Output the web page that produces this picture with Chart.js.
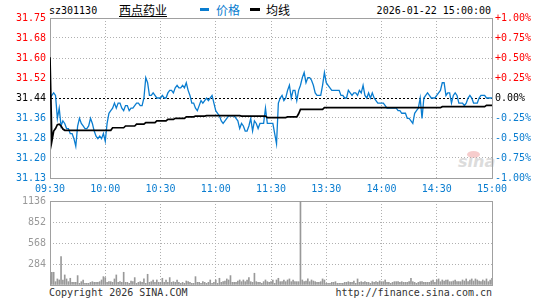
<!DOCTYPE html>
<html><head><meta charset="utf-8">
<script src="https://cdn.jsdelivr.net/npm/chart.js@4/dist/chart.umd.min.js"></script>
<style>
html,body{margin:0;padding:0;background:#fff;}
#wrap{position:relative;width:545px;height:300px;overflow:hidden;font-family:'DejaVu Sans Mono',monospace;font-size:10px;color:#000;}
canvas{position:absolute;left:0;top:0;z-index:2;}
.t{position:absolute;white-space:nowrap;line-height:12px;}
.cjk{font-family:'Noto Sans CJK SC',sans-serif;font-size:12px;line-height:14px;}
</style></head><body>
<div id="wrap">
  <div class="t" style="left:49px;top:5px;">sz301130</div>
  <div class="t cjk" style="left:119px;top:3px;text-decoration:underline;">西点药业</div>
  <div style="position:absolute;left:200px;top:8px;width:9px;height:3px;background:#0a7dd0;"></div>
  <div class="t cjk" style="left:216px;top:3px;color:#0a7dd0;">价格</div>
  <div style="position:absolute;left:250px;top:8px;width:10px;height:3px;background:#000;"></div>
  <div class="t cjk" style="left:266px;top:3px;">均线</div>
  <div class="t" style="right:54px;top:5px;">2026-01-22 15:00:00</div>
  <div class="t" style="left:458px;top:153px;font-family:'DejaVu Sans',sans-serif;font-weight:bold;font-style:italic;font-size:16px;line-height:18px;color:#dcdcdc;z-index:1;">sina</div>
  <div style="position:absolute;left:467px;top:151px;width:13px;height:7px;border-radius:50%;background:#f6cccc;z-index:1;"></div>
  <div class="t" style="left:49px;top:287px;color:#333;">Copyright 2026 SINA.COM</div>
  <div class="t" style="right:53px;top:287px;color:#333;">http://finance.sina.com.cn</div>
  <canvas id="c1" width="545" height="300"></canvas>
  <canvas id="c2" width="545" height="300"></canvas>
</div>
<script>
// ---- data ----
const prevClose = 31.44;
const pctLevels = [1, 0.75, 0.5, 0.25, 0, -0.25, -0.5, -0.75, -1];
const priceTickLabels = ['31.75','31.68','31.60','31.52','31.44','31.36','31.28','31.20','31.13'];
const pctTickLabels = ['+1.00%','+0.75%','+0.50%','+0.25%','0.00%','-0.25%','-0.50%','-0.75%','-1.00%'];
const timeTickMinutes = [0,30,60,90,120,150,180,210,240];
const timeTickLabels = ['09:30','10:00','10:30','11:00','11:30','13:30','14:00','14:30','15:00'];
const volTickValues = [0,284,568,852,1136];
const volTickLabels = ['','284','568','852','1136'];

const price = [
31.44,31.45,31.46,31.45,31.36,31.40,31.33,31.35,31.34,31.32,
31.32,31.30,31.30,31.28,31.25,31.33,31.36,31.34,31.33,31.32,
31.32,31.33,31.36,31.34,31.31,31.29,31.28,31.29,31.28,31.30,
31.27,31.34,31.38,31.39,31.40,31.42,31.40,31.42,31.42,31.40,
31.39,31.41,31.41,31.39,31.40,31.40,31.41,31.42,31.42,31.41,
31.41,31.44,31.52,31.50,31.45,31.45,31.46,31.45,31.44,31.44,
31.44,31.45,31.44,31.44,31.46,31.47,31.47,31.46,31.48,31.49,
31.48,31.48,31.49,31.48,31.50,31.47,31.45,31.42,31.42,31.40,
31.39,31.41,31.43,31.42,31.43,31.44,31.43,31.44,31.45,31.42,
31.39,31.38,31.37,31.35,31.34,31.35,31.36,31.37,31.37,31.37,
31.37,31.36,31.35,31.32,31.34,31.33,31.31,31.31,31.33,31.36,
31.31,31.35,31.34,31.32,31.34,31.34,31.34,31.40,31.34,31.34,
31.34,31.34,31.30,31.26,31.42,31.44,31.45,31.43,31.44,31.47,
31.49,31.44,31.47,31.47,31.43,31.47,31.49,31.52,31.54,31.50,
31.52,31.52,31.51,31.49,31.46,31.45,31.45,31.45,31.49,31.54,
31.50,31.49,31.48,31.47,31.47,31.47,31.47,31.47,31.45,31.45,
31.44,31.44,31.47,31.46,31.45,31.46,31.46,31.45,31.47,31.46,
31.49,31.45,31.44,31.46,31.44,31.46,31.44,31.43,31.42,31.42,
31.42,31.42,31.41,31.40,31.40,31.40,31.40,31.40,31.40,31.39,
31.39,31.38,31.38,31.38,31.36,31.36,31.35,31.34,31.38,31.39,
31.40,31.44,31.36,31.44,31.45,31.46,31.45,31.44,31.44,31.44,
31.45,31.46,31.47,31.50,31.50,31.45,31.46,31.46,31.42,31.45,
31.46,31.45,31.42,31.42,31.42,31.41,31.42,31.44,31.45,31.44,
31.42,31.42,31.42,31.44,31.45,31.45,31.45,31.44,31.44,31.44,
31.44
];

const avgPrice = [
31.60,31.27,31.31,31.32,31.335,31.337,31.33,31.318,31.313,31.313,
31.313,31.313,31.313,31.313,31.313,31.313,31.313,31.313,31.313,31.313,
31.313,31.313,31.313,31.313,31.313,31.313,31.313,31.313,31.313,31.313,
31.313,31.313,31.313,31.313,31.323,31.323,31.323,31.323,31.323,31.323,
31.323,31.33,31.33,31.33,31.33,31.33,31.33,31.337,31.337,31.337,
31.337,31.337,31.343,31.343,31.343,31.343,31.343,31.343,31.35,31.35,
31.35,31.35,31.35,31.35,31.356,31.356,31.356,31.356,31.36,31.36,
31.36,31.36,31.36,31.36,31.366,31.366,31.366,31.366,31.366,31.369,
31.369,31.369,31.369,31.369,31.369,31.371,31.371,31.371,31.371,31.371,
31.371,31.371,31.371,31.371,31.371,31.371,31.371,31.371,31.371,31.371,
31.371,31.371,31.371,31.371,31.369,31.369,31.369,31.369,31.369,31.369,
31.369,31.369,31.369,31.369,31.369,31.369,31.369,31.369,31.363,31.363,
31.363,31.363,31.363,31.363,31.363,31.363,31.363,31.363,31.363,31.366,
31.366,31.366,31.366,31.366,31.366,31.378,31.395,31.395,31.395,31.395,
31.395,31.395,31.395,31.395,31.395,31.395,31.395,31.395,31.395,31.402,
31.402,31.402,31.402,31.402,31.402,31.402,31.402,31.402,31.402,31.402,
31.402,31.402,31.402,31.402,31.402,31.402,31.402,31.402,31.402,31.402,
31.402,31.402,31.402,31.402,31.402,31.402,31.402,31.402,31.402,31.402,
31.402,31.402,31.402,31.402,31.402,31.402,31.402,31.402,31.402,31.402,
31.402,31.402,31.402,31.402,31.402,31.402,31.402,31.402,31.402,31.402,
31.402,31.402,31.402,31.402,31.402,31.402,31.402,31.402,31.402,31.402,
31.402,31.402,31.402,31.406,31.406,31.406,31.406,31.406,31.406,31.406,
31.406,31.406,31.406,31.406,31.406,31.406,31.406,31.406,31.406,31.406,
31.406,31.406,31.406,31.406,31.406,31.406,31.406,31.411,31.411,31.411,
31.411
];

const volume = [
120,172,172,45,82,68,385,68,136,82,
45,91,36,36,36,127,23,45,68,23,
23,23,36,45,36,36,36,45,68,113,
100,36,45,45,36,82,136,36,45,36,
172,36,36,23,54,45,100,23,36,45,
36,82,23,145,36,45,68,36,68,36,
36,91,36,68,36,100,36,45,36,68,
36,23,36,23,54,45,36,23,23,113,
36,36,23,45,36,23,36,68,23,36,
68,23,91,36,45,54,82,68,127,36,
36,36,54,68,45,68,45,68,100,45,
36,159,45,36,36,23,45,68,45,36,
45,68,23,68,91,45,45,68,45,68,
82,45,68,45,45,45,1136,68,45,54,
82,45,68,54,45,36,36,45,82,68,
23,23,23,36,36,45,23,23,23,23,
36,36,45,36,36,54,23,82,36,45,
36,45,36,36,23,45,36,45,36,54,
45,45,68,36,36,23,36,45,45,45,
36,45,36,36,36,45,91,45,36,23,
36,45,45,36,36,36,36,54,68,36,
68,82,45,68,54,68,68,45,45,54,
68,45,45,45,68,54,82,45,68,82,
54,82,68,54,45,68,54,82,45,68,
91
];

// ---- styling ----
const RED = '#ff0000', BLUE = '#0a7dd0', GRIDC = '#b0b0b0', BOXC = '#a0a0a0', VOLC = '#999999';
const FONT = {family: "'DejaVu Sans Mono', monospace", size: 10};
const levelValues = pctLevels.map(p => prevClose * (1 + p / 100));
const yMin = Math.min(...levelValues), yMax = Math.max(...levelValues);
const near = (a, b) => Math.abs(a - b) < 1e-6;
const levelIndex = v => levelValues.findIndex(l => near(l, v));

const boxPlugin = {
  id: 'box',
  beforeDatasetsDraw(chart, args, opts) {
    const {ctx, chartArea: a} = chart;
    ctx.save();
    ctx.strokeStyle = BOXC; ctx.lineWidth = 1; ctx.setLineDash([]);
    ctx.strokeRect(Math.round(a.left) + 0.5, Math.round(a.top) + 0.5,
                   Math.round(a.right) - Math.round(a.left), Math.round(a.bottom) - Math.round(a.top));
    if (opts.prevLine) {
      const y = Math.round(chart.scales.y.getPixelForValue(prevClose)) + 0.5;
      ctx.strokeStyle = '#000'; ctx.setLineDash([2, 2]);
      ctx.beginPath(); ctx.moveTo(a.left + 1, y); ctx.lineTo(a.right, y); ctx.stroke();
    }
    ctx.restore();
  }
};

const xGrid = {drawTicks: false, color: c => (c.index === 0 || c.index === timeTickMinutes.length - 1) ? 'rgba(0,0,0,0)' : GRIDC, lineWidth: 1};

new Chart(document.getElementById('c1'), {
  type: 'line',
  data: {datasets: [
    {label: '均线', data: avgPrice.map((v, i) => ({x: i, y: v})), borderColor: '#000', borderWidth: 1.7, pointRadius: 0, tension: 0},
    {label: '价格', data: price.map((v, i) => ({x: i, y: v})), borderColor: BLUE, borderWidth: 1.3, pointRadius: 0, tension: 0}
  ]},
  options: {
    responsive: false, animation: false, events: [],
    layout: {padding: {top: 18, left: 0, right: 0, bottom: 0}},
    plugins: {legend: {display: false}, tooltip: {enabled: false}, box: {prevLine: true}},
    scales: {
      x: {
        type: 'linear', min: 0, max: 240,
        afterBuildTicks: s => { s.ticks = timeTickMinutes.map(v => ({value: v})); },
        afterFit: s => { s.height = 122; },
        ticks: {autoSkip: false, maxRotation: 0, padding: 5, color: BLUE, font: FONT,
                callback: (v) => timeTickLabels[timeTickMinutes.indexOf(v)]},
        grid: xGrid,
        border: {display: false, dash: [1, 2]}
      },
      y: {
        position: 'left', min: yMin, max: yMax,
        afterBuildTicks: s => { s.ticks = levelValues.slice().reverse().map(v => ({value: v})); },
        afterFit: s => { s.width = 50; },
        ticks: {padding: 4, font: FONT, autoSkip: false,
                color: c => c.tick.value > prevClose + 1e-6 ? RED : (c.tick.value < prevClose - 1e-6 ? BLUE : '#000'),
                callback: v => priceTickLabels[levelIndex(v)]},
        grid: {drawTicks: false, lineWidth: 1,
               color: c => { const v = c.tick ? c.tick.value : 0; return (near(v, prevClose) || near(v, yMin) || near(v, yMax)) ? 'rgba(0,0,0,0)' : GRIDC; }},
        border: {display: false, dash: [1, 2]}
      },
      y2: {
        position: 'right', min: yMin, max: yMax,
        afterBuildTicks: s => { s.ticks = levelValues.slice().reverse().map(v => ({value: v})); },
        afterFit: s => { s.width = 53; },
        ticks: {padding: 3, font: FONT, autoSkip: false,
                color: c => c.tick.value > prevClose + 1e-6 ? RED : (c.tick.value < prevClose - 1e-6 ? BLUE : '#000'),
                callback: v => pctTickLabels[levelIndex(v)]},
        grid: {display: false, drawTicks: false},
        border: {display: false}
      }
    }
  },
  plugins: [boxPlugin]
});

new Chart(document.getElementById('c2'), {
  type: 'bar',
  data: {datasets: [
    {label: 'vol', data: volume.map((v, i) => ({x: i, y: v})), backgroundColor: VOLC, borderWidth: 0, barThickness: 1, grouped: false}
  ]},
  options: {
    responsive: false, animation: false, events: [],
    layout: {padding: {top: 201, left: 0, right: 53, bottom: 0}},
    plugins: {legend: {display: false}, tooltip: {enabled: false}, box: {prevLine: false}},
    scales: {
      x: {
        type: 'linear', min: 0, max: 240, offset: false,
        afterBuildTicks: s => { s.ticks = timeTickMinutes.map(v => ({value: v})); },
        afterFit: s => { s.height = 15; },
        ticks: {display: false},
        grid: Object.assign({offset: false}, xGrid),
        border: {display: false, dash: [1, 2]}
      },
      y: {
        position: 'left', min: 0, max: 1136,
        afterBuildTicks: s => { s.ticks = volTickValues.map(v => ({value: v})); },
        afterFit: s => { s.width = 50; },
        ticks: {padding: 4, font: FONT, color: VOLC, autoSkip: false,
                callback: v => volTickLabels[volTickValues.indexOf(v)]},
        grid: {drawTicks: false, lineWidth: 1,
               color: c => (c.index === 0 || c.index === volTickValues.length - 1) ? 'rgba(0,0,0,0)' : GRIDC},
        border: {display: false, dash: [1, 2]}
      }
    }
  },
  plugins: [boxPlugin]
});
</script>
</body></html>
